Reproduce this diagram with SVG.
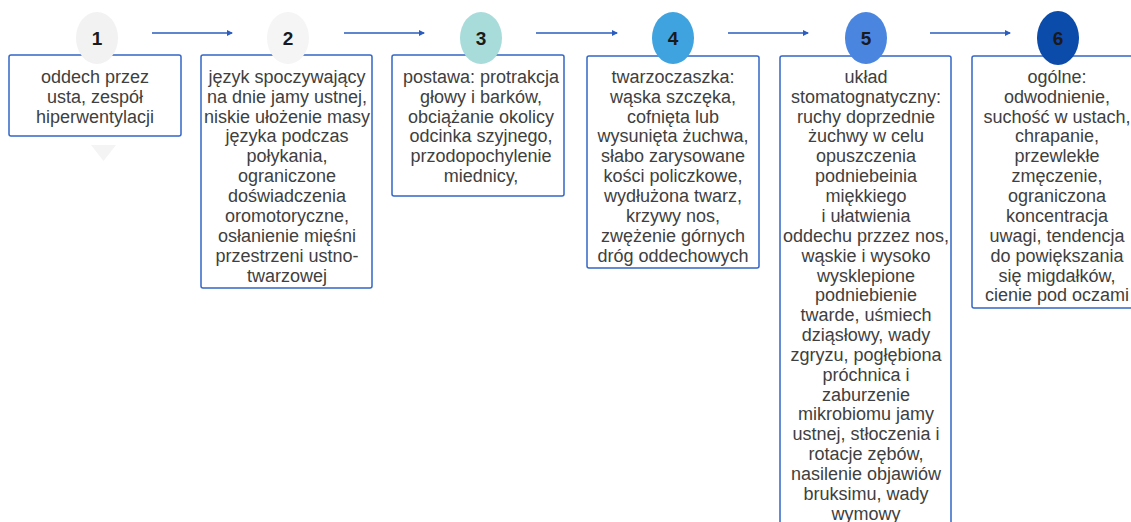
<svg xmlns="http://www.w3.org/2000/svg" width="1131" height="522" viewBox="0 0 1131 522">
<style>
.box{fill:#ffffff;stroke:#3566C8;stroke-width:1.5}
.t{font-family:"Liberation Sans",Arial,sans-serif;font-size:18px;fill:#404040;text-anchor:middle}
.n{font-family:"Liberation Sans",Arial,sans-serif;font-size:19px;font-weight:bold;fill:#1a1a1a;text-anchor:middle}
.c{stroke:#2A5DBF;stroke-width:1.5;fill:none;marker-end:url(#ah)}
</style>
<defs>
<marker id="ah" markerWidth="6" markerHeight="6" refX="5" refY="3" orient="auto" markerUnits="userSpaceOnUse">
<path d="M0,0 L6,3 L0,6 Z" fill="#2A5DBF"/>
</marker>
</defs>
<rect width="1131" height="522" fill="#ffffff"/>
<g id="connectors">
<line class="c" x1="152" y1="33" x2="232" y2="33"/>
<line class="c" x1="344" y1="33" x2="424" y2="33"/>
<line class="c" x1="536" y1="33" x2="617" y2="33"/>
<line class="c" x1="728" y1="33" x2="808" y2="33"/>
<line class="c" x1="930" y1="33" x2="1010" y2="33"/>
</g>
<g id="node1">
<rect class="box" x="9" y="55" width="172" height="81" rx="2"/>
<polygon points="91,145 116,145 103.5,161" fill="#F4F4F4"/>
<ellipse cx="97" cy="38" rx="21" ry="26" fill="#F2F2F2"/>
<text class="n" x="97" y="45">1</text>
<text class="t" x="95"><tspan x="95" y="83">oddech przez</tspan><tspan x="95" y="103">usta, zespół</tspan><tspan x="95" y="123">hiperwentylacji</tspan></text>
</g>
<g id="node2">
<rect class="box" x="201" y="55" width="171" height="233" rx="2"/>
<ellipse cx="288" cy="38" rx="21" ry="26" fill="#F5F5F5"/>
<text class="n" x="288" y="45">2</text>
<text class="t"><tspan x="287" y="83">język spoczywający</tspan><tspan x="287" y="103">na dnie jamy ustnej,</tspan><tspan x="287" y="123">niskie ułożenie masy</tspan><tspan x="287" y="142">języka podczas</tspan><tspan x="287" y="162">połykania,</tspan><tspan x="287" y="182">ograniczone</tspan><tspan x="287" y="202">doświadczenia</tspan><tspan x="287" y="222">oromotoryczne,</tspan><tspan x="287" y="242">osłanienie mięśni</tspan><tspan x="287" y="262">przestrzeni ustno-</tspan><tspan x="287" y="282">twarzowej</tspan></text>
</g>
<g id="node3">
<rect class="box" x="392" y="55" width="172" height="141" rx="2"/>
<ellipse cx="481" cy="38" rx="21" ry="26" fill="#A8DCDA"/>
<text class="n" x="481" y="45">3</text>
<text class="t"><tspan x="481" y="83">postawa: protrakcja</tspan><tspan x="481" y="103">głowy i barków,</tspan><tspan x="481" y="123">obciążanie okolicy</tspan><tspan x="481" y="142">odcinka szyjnego,</tspan><tspan x="481" y="162">przodopochylenie</tspan><tspan x="481" y="182">miednicy,</tspan></text>
</g>
<g id="node4">
<rect class="box" x="587" y="56" width="172" height="212" rx="2"/>
<ellipse cx="673" cy="38" rx="21" ry="26" fill="#3EA3DF"/>
<text class="n" x="673" y="45">4</text>
<text class="t"><tspan x="673" y="83">twarzoczaszka:</tspan><tspan x="673" y="103">wąska szczęka,</tspan><tspan x="673" y="123">cofnięta lub</tspan><tspan x="673" y="142">wysunięta żuchwa,</tspan><tspan x="673" y="162">słabo zarysowane</tspan><tspan x="673" y="182">kości policzkowe,</tspan><tspan x="673" y="202">wydłużona twarz,</tspan><tspan x="673" y="222">krzywy nos,</tspan><tspan x="673" y="242">zwężenie górnych</tspan><tspan x="673" y="262">dróg oddechowych</tspan></text>
</g>
<g id="node5">
<rect class="box" x="780" y="56" width="171" height="480" rx="2"/>
<ellipse cx="866" cy="38" rx="21" ry="26" fill="#4A86DF"/>
<text class="n" x="866" y="45">5</text>
<text class="t"><tspan x="866" y="83">układ</tspan><tspan x="866" y="103">stomatognatyczny:</tspan><tspan x="866" y="123">ruchy doprzednie</tspan><tspan x="866" y="142">żuchwy w celu</tspan><tspan x="866" y="162">opuszczenia</tspan><tspan x="866" y="182">podniebeinia</tspan><tspan x="866" y="202">miękkiego</tspan><tspan x="866" y="222">i ułatwienia</tspan><tspan x="866" y="242">oddechu przzez nos,</tspan><tspan x="866" y="262">wąskie i wysoko</tspan><tspan x="866" y="282">wysklepione</tspan><tspan x="866" y="301">podniebienie</tspan><tspan x="866" y="321">twarde, uśmiech</tspan><tspan x="866" y="341">dziąsłowy, wady</tspan><tspan x="866" y="361">zgryzu, pogłębiona</tspan><tspan x="866" y="381">próchnica i</tspan><tspan x="866" y="401">zaburzenie</tspan><tspan x="866" y="420">mikrobiomu jamy</tspan><tspan x="866" y="440">ustnej, stłoczenia i</tspan><tspan x="866" y="460">rotacje zębów,</tspan><tspan x="866" y="480">nasilenie objawiów</tspan><tspan x="866" y="500">bruksimu, wady</tspan><tspan x="866" y="520">wymowy</tspan></text>
</g>
<g id="node6">
<rect class="box" x="972" y="56" width="172" height="252" rx="2"/>
<ellipse cx="1058" cy="38" rx="21" ry="27" fill="#0B4BAA"/>
<text class="n" x="1058" y="45">6</text>
<text class="t"><tspan x="1057" y="83">ogólne:</tspan><tspan x="1057" y="103">odwodnienie,</tspan><tspan x="1057" y="123">suchość w ustach,</tspan><tspan x="1057" y="142">chrapanie,</tspan><tspan x="1057" y="162">przewlekłe</tspan><tspan x="1057" y="182">zmęczenie,</tspan><tspan x="1057" y="202">ograniczona</tspan><tspan x="1057" y="222">koncentracja</tspan><tspan x="1057" y="242">uwagi, tendencja</tspan><tspan x="1057" y="262">do powiększania</tspan><tspan x="1057" y="282">się migdałków,</tspan><tspan x="1057" y="301">cienie pod oczami</tspan></text>
</g>
</svg>
